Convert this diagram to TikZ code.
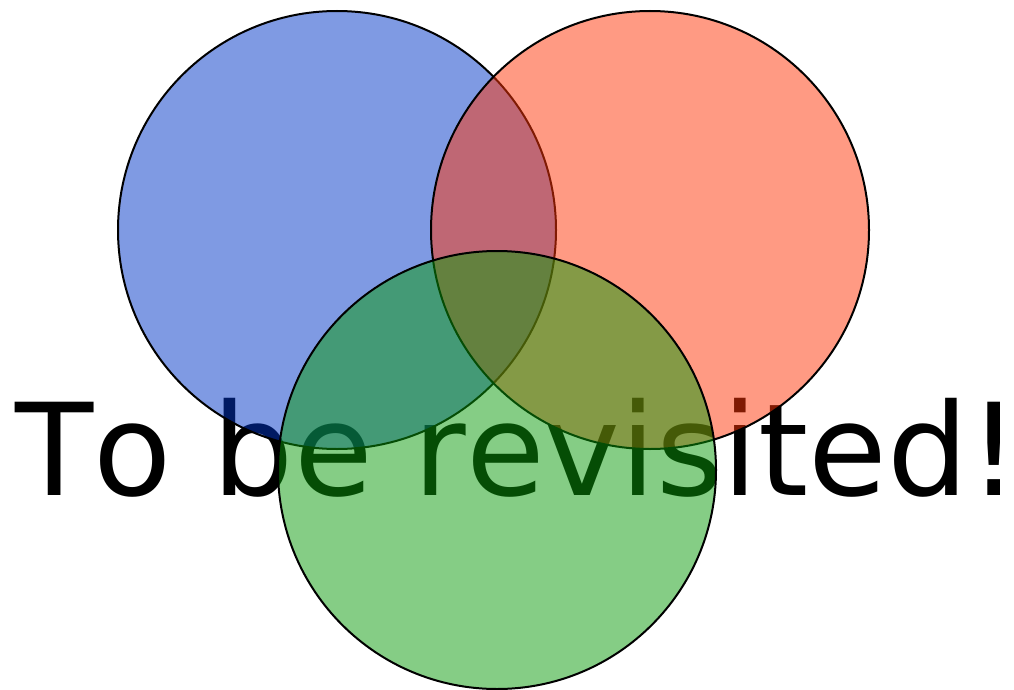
\documentclass[tikz,border=0pt]{standalone}
\usepackage{fontspec}
\setmainfont{DejaVu Sans}[Kerning=Off]
\definecolor{vblue}{RGB}{0,53,199}
\definecolor{vred}{RGB}{255,53,7}
\definecolor{vgreen}{RGB}{11,155,11}
\begin{document}
\begin{tikzpicture}[x=1pt,y=-1pt,
  venn/.style={draw=black,line width=2pt,fill opacity=0.5}]
\useasboundingbox (0,0) rectangle (1014,690);
\node[anchor=base west,inner sep=0pt,font=\fontsize{128}{128}\selectfont] (txt) at (15.5,495) {To be revisited!};
\filldraw[venn,fill=vblue] (337,230) circle[radius=219];
\filldraw[venn,fill=vred] (650,230) circle[radius=219];
\filldraw[venn,fill=vgreen] (497,470) circle[radius=219];
\end{tikzpicture}
\end{document}
